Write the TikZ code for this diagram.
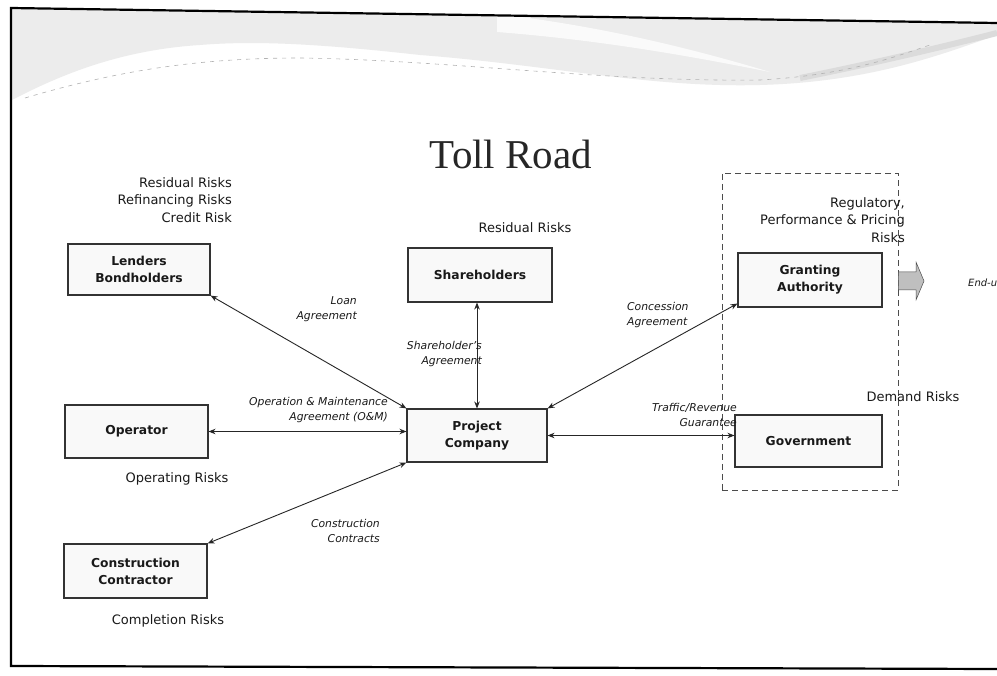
\documentclass[tikz,border=0pt]{standalone}
\usepackage{fontspec}
\setmainfont{DejaVu Sans}
\newfontfamily\titlefont{Liberation Serif}
\usetikzlibrary{arrows.meta}
\begin{document}
\begin{tikzpicture}[x=1pt,y=-1pt,
  box/.style={draw=black!80,line width=1.1pt,fill=gray!5,font=\fontsize{12.3}{17}\selectfont\bfseries,text=black!90,align=center,inner sep=0pt},
  risk/.style={font=\fontsize{13}{17.5}\selectfont,text=black!90,inner sep=0pt},
  lab/.style={font=\fontsize{10.8}{14.5}\selectfont\itshape,text=black!90,inner sep=0pt},
  link/.style={{Stealth[length=7pt,width=5.5pt]}-{Stealth[length=7pt,width=5.5pt]},line width=0.9pt,draw=black!85}
]
\useasboundingbox (0,0) rectangle (997,676);
\fill[white] (0,0) rectangle (997,676);
% header swoosh
\fill[gray!15] (12,9) -- (997,23) -- (997,35) .. controls (940,55) and (870,82) .. (760,85)
  .. controls (650,88) and (550,65) .. (420,55) .. controls (330,45) and (260,40) .. (200,45)
  .. controls (120,50) and (60,75) .. (12,100) -- cycle;
\fill[white,opacity=0.75] (497,14) .. controls (600,26) and (690,48) .. (770,72)
  .. controls (690,56) and (600,40) .. (497,32) -- cycle;
\draw[gray!28,line width=6pt] (800,78) .. controls (880,62) and (950,45) .. (997,33);
\draw[gray!60,dash pattern=on 4pt off 5pt,line width=0.6pt] (25,98) .. controls (120,70) and (200,58) .. (300,58)
  .. controls (450,60) and (600,82) .. (760,80) .. controls (850,75) and (900,55) .. (930,45);
% frame
\draw[line width=2.2pt] (997,23) -- (11,8) -- (11,666) -- (997,669);
% title
\node[font=\titlefont\fontsize{41}{41}\selectfont,text=black!85,inner sep=0pt] (title) at (511,154) {Toll Road};
% boxes
\node[box,minimum width=142pt,minimum height=51pt] (lend) at (139,269.5) {Lenders\\Bondholders};
\node[box,minimum width=143pt,minimum height=53pt] (op) at (136.5,431.5) {Operator};
\node[box,minimum width=143pt,minimum height=54pt] (cc) at (135.5,571) {Construction\\Contractor};
\node[box,minimum width=140pt,minimum height=53pt] (pc) at (477,435.5) {Project\\Company};
\node[box,minimum width=144pt,minimum height=54pt] (sh) at (480,275) {Shareholders};
\node[box,minimum width=144pt,minimum height=54pt] (ga) at (810,280) {Granting\\Authority};
\node[box,minimum width=147pt,minimum height=52pt] (gov) at (808.5,441) {Government};
% dashed group
\node[draw=black!70,dash pattern=on 6pt off 4pt,line width=0.8pt,minimum width=176pt,minimum height=317pt,inner sep=0pt] (grp) at (810,331.5) {};
% risks
\node[risk,align=right,anchor=east] (rl) at (232,200) {Residual Risks\\Refinancing Risks\\Credit Risk};
\node[risk] (rs) at (525,228) {Residual Risks};
\node[risk,align=right,anchor=east] (rg) at (905,220) {Regulatory,\\Performance \& Pricing\\Risks};
\node[risk] (rd) at (913,397) {Demand Risks};
\node[risk] (ro) at (177,479) {Operating Risks};
\node[risk] (rc) at (168,621) {Completion Risks};
% connectors
\draw[link] (lend.south east) -- (pc.north west);
\draw[link] (op.east) -- (op.east -| pc.west);
\draw[link] (cc.north east) -- (pc.south west);
\draw[link] (pc.north) -- (pc.north |- sh.south);
\draw[link] (pc.north east) -- ([yshift=4pt]ga.south west);
\draw[link] (pc.east) -- (pc.east -| gov.west);
% labels
\node[lab,align=right,anchor=east] (lloan) at (357,309) {Loan\\Agreement};
\node[lab,align=right,anchor=east] (lsh) at (482,354) {Shareholder's\\Agreement};
\node[lab,align=right,anchor=east] (lom) at (388,410) {Operation \& Maintenance\\Agreement (O\&M)};
\node[lab,align=right,anchor=east] (lcc) at (380,531) {Construction\\Contracts};
\node[lab,align=left,anchor=west] (lcon) at (627,315) {Concession\\Agreement};
\node[lab,align=right,anchor=east] (ltr) at (737,415) {Traffic/Revenue\\Guarantee};
% block arrow to end-users
\draw[fill=gray!50,draw=gray!60!black,line width=0.5pt] (grp.east |- 0,272) -- (916,272) -- (916,262) -- (924,281) -- (916,300) -- (916,290) -- (grp.east |- 0,290) -- cycle;
\node[lab,font=\fontsize{10}{12}\selectfont\itshape,anchor=west] (eu) at (968,283) {End-u};
\end{tikzpicture}
\end{document}
